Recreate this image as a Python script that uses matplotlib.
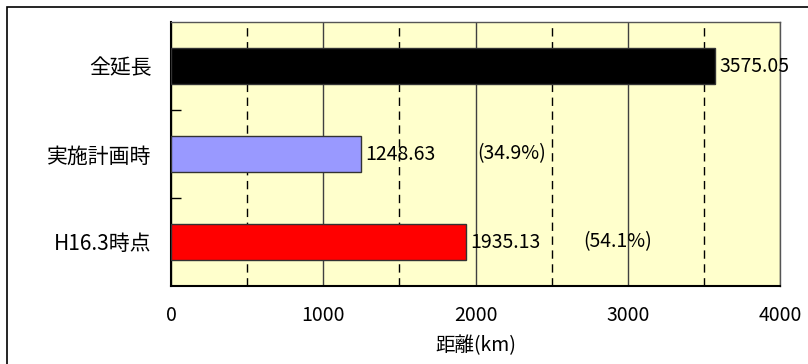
#!/usr/bin/env python3
# Horizontalni bar chart: 全延長 / 実施計画時 / H16.3時点
import matplotlib
matplotlib.use('Agg')
import matplotlib.pyplot as plt
from matplotlib.patches import Rectangle

plt.rcParams['font.family'] = ['Noto Sans CJK JP', 'DejaVu Sans']

categories = ['全延長', '実施計画時', 'H16.3時点']
values = [3575.05, 1248.63, 1935.13]
colors = ['#000000', '#9999FF', '#FF0000']
x_ticks = [0, 1000, 2000, 3000, 4000]
x_label = '距離(km)'

# gdje stoje postotci (data x)
pct_x = [None, 2010, 2710]

fig = plt.figure(figsize=(8.08, 3.64), dpi=100)
ax = fig.add_axes([171 / 808, 1 - 286 / 364, (780 - 171) / 808, (286 - 22) / 364])

# okvir oko cijele slike
fig.patches.append(Rectangle((7 / 808, -0.05), 1.1, (364 - 7) / 364 + 0.05,
                             transform=fig.transFigure, fill=False,
                             edgecolor='black', lw=1.2, zorder=0))

ax.set_facecolor('#FFFFCC')
ypos = list(range(len(categories)))
ax.barh(ypos, values, height=0.41, color=colors, edgecolor='#333333', lw=1, zorder=3)

fs = 14
for y, v in zip(ypos, values):
    ax.annotate(f'{v:.2f}', (v, y), xytext=(3, 0), textcoords='offset points',
                va='center', ha='left', fontsize=fs, zorder=5)

total = values[0]
for y, v, px in zip(ypos, values, pct_x):
    if px is None:
        continue
    ax.text(px, y, f'({100 * v / total:.1f}%)', va='center', ha='left',
            fontsize=fs, zorder=5)

ax.set_xlim(0, 4000)
ax.set_ylim(2.5, -0.5)
ax.set_xticks(x_ticks)
ax.set_xticks([500, 1500, 2500, 3500], minor=True)
ax.tick_params(axis='x', which='both', length=0, pad=14, labelsize=fs)
ax.grid(axis='x', which='major', color='#404040', lw=1, ls='-', zorder=1)
ax.grid(axis='x', which='minor', color='black', lw=1, ls=(0, (6, 4)), zorder=1)
ax.set_axisbelow(True)

ax.set_yticks(ypos)
ax.set_yticklabels(categories)
ax.set_yticks([0.5, 1.5], minor=True)
ax.tick_params(axis='y', which='major', length=0, pad=14, labelsize=15)
ax.tick_params(axis='y', which='minor', length=7, direction='in', width=1, color='black')

ax.set_xlabel(x_label, fontsize=fs, labelpad=6)

for s in ['top', 'right']:
    ax.spines[s].set_color('#555555')
    ax.spines[s].set_linewidth(1)
for s in ['left', 'bottom']:
    ax.spines[s].set_color('black')
    ax.spines[s].set_linewidth(1.5)

plt.savefig('out.png', dpi=100)
plt.close()
